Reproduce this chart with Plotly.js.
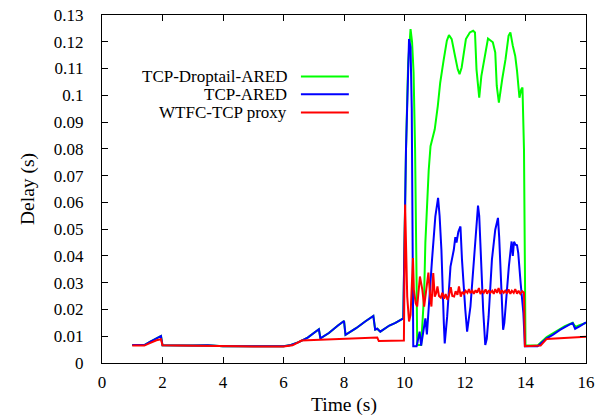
<!DOCTYPE html>
<html>
<head>
<meta charset="utf-8">
<script src="https://cdn.plot.ly/plotly-3.0.1.min.js"></script>
<style>html,body{margin:0;padding:0;background:#fff}#chart{width:606px;height:418px}</style>
</head>
<body>
<div id="chart"></div>
<script>
// ---- Data ----
const seriesNames = ["TCP-Droptail-ARED", "TCP-ARED", "WTFC-TCP proxy"];

const tDroptail = [1.0,1.4,1.6,1.8,1.95,2.0,2.5,3.0,3.5,4.0,4.5,5.0,5.5,6.0,6.2,6.5,6.8,7.0,7.17,7.22,7.5,7.8,8.0,8.05,8.4,8.7,8.97,9.03,9.1,9.2,9.5,9.7,9.96,
  10.05,10.12,10.2,10.25,10.3,10.35,10.4,10.42,10.55,10.6,10.65,10.69,10.75,10.8,10.86,11.0,11.1,11.18,11.29,11.4,11.47,11.56,11.67,11.76,11.82,11.89,12.03,12.16,12.27,12.33,12.38,12.47,12.54,12.65,12.76,12.92,13.0,13.05,13.12,13.23,13.34,13.44,13.5,13.58,13.66,13.72,13.8,13.86,13.9,13.95,14.0,14.4,14.7,15.0,15.3,15.56,15.65,15.8,16.0];
const dDroptail = [0.0067,0.0067,0.0080,0.0092,0.0101,0.0066,0.0065,0.0065,0.0066,0.0063,0.0063,0.0063,0.0063,0.0063,0.0066,0.0078,0.0095,0.0110,0.0126,0.0092,0.0112,0.0140,0.0157,0.0105,0.0130,0.0155,0.0176,0.0125,0.0128,0.0117,0.0140,0.0150,0.0167,
  0.080,0.112,0.1247,0.120,0.1085,0.0798,0.030,0.0067,0.0067,0.015,0.026,0.045,0.060,0.072,0.081,0.0873,0.096,0.1047,0.1129,0.1204,0.1225,0.121,0.1147,0.1097,0.1079,0.1104,0.121,0.1235,0.1241,0.1235,0.1097,0.0991,0.1072,0.1135,0.1212,0.1198,0.116,0.1035,0.0973,0.1060,0.1135,0.1222,0.1235,0.1185,0.1147,0.1091,0.0991,0.1022,0.1029,0.0798,0.0065,0.0065,0.0097,0.0117,0.0138,0.0150,0.0135,0.0142,0.0150];

const tAred = [1.0,1.4,1.6,1.8,1.95,2.0,2.5,3.0,3.5,4.0,4.5,5.0,5.5,6.0,6.2,6.5,6.8,7.0,7.17,7.22,7.5,7.8,8.0,8.05,8.4,8.7,8.97,9.03,9.1,9.2,9.5,9.7,9.96,
  10.05,10.15,10.2,10.24,10.29,10.4,10.47,10.5,10.55,10.62,10.69,10.74,10.82,10.91,11.02,11.11,11.16,11.22,11.3,11.33,11.41,11.52,11.63,11.68,11.72,11.78,11.85,11.9,12.01,12.07,12.18,12.29,12.38,12.43,12.47,12.51,12.6,12.67,12.72,12.78,12.89,13.0,13.09,13.13,13.17,13.26,13.3,13.37,13.45,13.54,13.58,13.62,13.67,13.72,13.76,13.84,13.9,13.93,13.98,14.4,14.7,14.9,15.14,15.3,15.45,15.56,15.64,15.8,16.0];
const dAred = [0.0067,0.0067,0.0080,0.0092,0.0101,0.0066,0.0065,0.0065,0.0066,0.0063,0.0063,0.0063,0.0063,0.0063,0.0066,0.0078,0.0095,0.0110,0.0126,0.0092,0.0112,0.0140,0.0157,0.0105,0.0130,0.0155,0.0176,0.0125,0.0128,0.0117,0.0140,0.0150,0.0167,
  0.080,0.121,0.118,0.095,0.0063,0.0063,0.0100,0.0117,0.0065,0.012,0.0167,0.0107,0.025,0.0386,0.0548,0.0617,0.055,0.0423,0.0149,0.0073,0.0173,0.036,0.0423,0.047,0.045,0.049,0.051,0.0386,0.0199,0.0117,0.0211,0.0386,0.052,0.0588,0.055,0.0423,0.0199,0.0067,0.0090,0.0173,0.0386,0.0498,0.0542,0.047,0.0361,0.0124,0.0150,0.0261,0.0361,0.0454,0.040,0.0453,0.0442,0.044,0.0411,0.0298,0.020,0.0186,0.0063,0.0063,0.0092,0.0105,0.0124,0.0135,0.0143,0.0149,0.0128,0.0138,0.0152];

const tWtfc = [1.0,1.4,1.6,1.8,1.95,2.0,2.5,3.0,3.5,4.0,4.5,5.0,5.5,6.0,6.3,6.6,7.0,7.5,8.0,8.5,9.0,9.1,9.15,9.5,9.98,
  10.02,10.09,10.15,10.2,10.28,10.31,10.37,10.42,10.51,10.59,10.65,10.7,10.79,10.85,10.89,10.95,11.0,11.05,11.09,11.14,11.2,11.25,11.31,11.36,11.42,11.47,11.53,11.58,11.64,11.69,11.75,11.8,11.86,11.91,11.97,12.02,12.08,12.13,12.18,12.24,12.29,12.35,12.4,12.46,12.51,12.57,12.62,12.68,12.73,12.79,12.84,12.9,12.95,13.0,13.06,13.11,13.17,13.22,13.28,13.33,13.39,13.44,13.5,13.55,13.61,13.66,13.72,13.77,13.83,13.89,13.95,13.98,14.5,14.7,15.0,15.5,16.0];
const dWtfc = [0.0065,0.0065,0.0075,0.0085,0.0089,0.0066,0.0065,0.0065,0.0065,0.0063,0.0063,0.0062,0.0062,0.0062,0.0066,0.0084,0.0086,0.0088,0.0090,0.0093,0.0095,0.0095,0.0082,0.0083,0.0084,
  0.0592,0.0248,0.0155,0.018,0.0392,0.0273,0.0223,0.0211,0.0323,0.0273,0.0211,0.0261,0.0338,0.0248,0.0211,0.0336,0.0248,0.0262,0.0286,0.0250,0.0244,0.0262,0.0240,0.0258,0.0236,0.0252,0.0283,0.0250,0.0248,0.0268,0.0255,0.0286,0.0248,0.0266,0.0258,0.0270,0.0262,0.0276,0.0261,0.0270,0.0259,0.0272,0.0263,0.0280,0.0258,0.0270,0.0262,0.0275,0.0259,0.0272,0.0262,0.0270,0.0258,0.0276,0.0262,0.0280,0.0258,0.0272,0.0262,0.0270,0.0260,0.0275,0.0258,0.0270,0.0262,0.0276,0.0259,0.0270,0.0258,0.0268,0.0263,0.0063,0.0065,0.0090,0.0092,0.0095,0.0098];

const colors = ["#00ff00", "#0000ff", "#ff0000"];
const xs = [tDroptail, tAred, tWtfc];
const ys = [dDroptail, dAred, dWtfc];

const font = "Times New Roman, Liberation Serif, DejaVu Serif, serif";

const traces = seriesNames.map((n, i) => ({
  x: xs[i], y: ys[i], name: n, type: "scatter", mode: "lines",
  line: {color: colors[i], width: 2}, showlegend: false
}));

// gnuplot-style key: text right-aligned, line sample to its right
const keyY = [0.823, 0.772, 0.720];
const annotations = seriesNames.map((n, i) => ({
  xref: "paper", yref: "paper", x: 0.387, y: keyY[i], xanchor: "right", yanchor: "middle",
  text: n, showarrow: false, font: {family: font, size: 17, color: "#000"}
}));
const shapes = seriesNames.map((n, i) => ({
  type: "line", xref: "paper", yref: "paper", x0: 0.411, x1: 0.510, y0: keyY[i], y1: keyY[i],
  line: {color: colors[i], width: 2}
}));

const layout = {
  width: 606, height: 418,
  margin: {l: 102, r: 20, t: 15, b: 55},
  paper_bgcolor: "#fff", plot_bgcolor: "#fff",
  font: {family: font, size: 17, color: "#000"},
  xaxis: {
    range: [0, 16], dtick: 2, tick0: 0,
    showline: true, linecolor: "#000", linewidth: 1, mirror: "ticks",
    ticks: "inside", ticklen: 6, tickcolor: "#000", showgrid: false, zeroline: false,
    ticklabelstandoff: 4, tickfont: {family: font, size: 17},
    title: {text: "Time (s)", font: {family: font, size: 19.5}, standoff: 5}
  },
  yaxis: {
    range: [0, 0.13], dtick: 0.01, tick0: 0,
    showline: true, linecolor: "#000", linewidth: 1, mirror: "ticks",
    ticks: "inside", ticklen: 6, tickcolor: "#000", showgrid: false, zeroline: false,
    ticklabelstandoff: 14, tickfont: {family: font, size: 17},
    title: {text: "Delay (s)", font: {family: font, size: 19.5}, standoff: 14}
  },
  annotations: annotations,
  shapes: shapes
};

Plotly.newPlot("chart", traces, layout, {displayModeBar: false, staticPlot: true});
</script>
</body>
</html>
